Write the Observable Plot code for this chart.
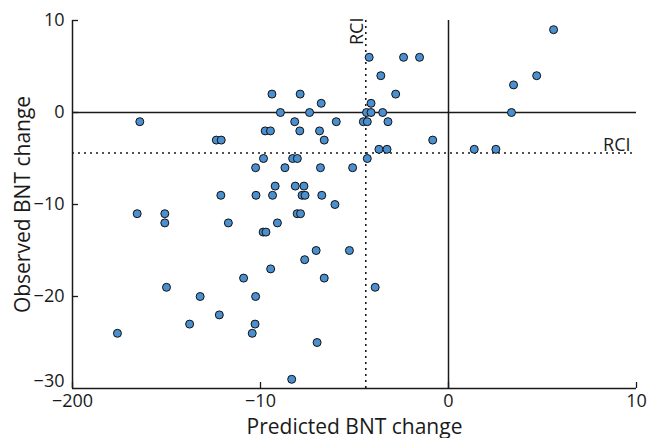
<!DOCTYPE html>
<html><head><meta charset="utf-8">
<script src="https://cdn.jsdelivr.net/npm/d3@7"></script>
<script src="https://cdn.jsdelivr.net/npm/@observablehq/plot@0.6"></script>
<style>body{margin:0;background:#fff} #c{width:648px;height:438px}</style>
</head><body><div id="c"></div>
<script>
const predicted = [
  5.59,
  -4.22, -2.39, -1.54,
  -3.60, 4.69,
  3.46,
  -9.39, -7.89, -2.81,
  -6.77, -4.12,
  -8.94, -7.39, -4.36, -4.12, -3.50, 3.35,
  -16.42, -8.18, -5.97, -4.53, -4.32, -3.22,
  -9.75, -9.47, -7.91, -6.86,
  -12.35, -12.09, -6.61, -0.84,
  -3.70, -3.27, 1.37, 2.52,
  -9.84, -8.29, -8.04, -4.32,
  -10.26, -8.70, -6.81, -5.10,
  -9.22, -8.15, -7.69,
  -12.11, -10.24, -9.36, -7.79, -7.63, -6.74,
  -6.04,
  -16.56, -15.09, -8.05, -7.87,
  -15.09, -11.71, -9.10,
  -9.86, -9.71,
  -7.04, -5.27,
  -7.65,
  -9.46,
  -10.90, -6.61,
  -15.00, -3.90,
  -13.21, -10.26,
  -12.19,
  -13.77, -10.29,
  -17.61, -10.44,
  -6.99,
  -8.34
];
const observed = [
  9,
  6, 6, 6,
  4, 4,
  3,
  2, 2, 2,
  1, 1,
  0, 0, 0, 0, 0, 0,
  -1, -1, -1, -1, -1, -1,
  -2, -2, -2, -2,
  -3, -3, -3, -3,
  -4, -4, -4, -4,
  -5, -5, -5, -5,
  -6, -6, -6, -6,
  -8, -8, -8,
  -9, -9, -9, -9, -9, -9,
  -10,
  -11, -11, -11, -11,
  -12, -12, -12,
  -13, -13,
  -15, -15,
  -16,
  -17,
  -18, -18,
  -19, -19,
  -20, -20,
  -22,
  -23, -23,
  -24, -24,
  -25,
  -29
];
const rci = -4.4;
const xTicks = [-20, -10, 0, 10];
const xTickLabels = ["−200", "−10", "0", "10"];
const yTicks = [10, 0, -10, -20];
const yTickLabels = ["10", "0", "−10", "−20"];
const yBottomTick = [-30];
const yBottomLabel = ["−30"];
const xTitle = "Predicted BNT change";
const yTitle = "Observed BNT change";
const rciLabel = "RCI";

const data = predicted.map((x, i) => ({x, y: observed[i]}));
const ink = "#1a1a1a";
const font = "Open Sans";

const chart = Plot.plot({
  width: 648,
  height: 438,
  marginLeft: 72,
  marginRight: 12,
  marginTop: 20,
  marginBottom: 50,
  style: {fontFamily: font, fontSize: "18px", color: ink, background: "white"},
  x: {domain: [-20, 10]},
  y: {domain: [-30, 10]},
  marks: [
    Plot.ruleY([rci], {stroke: ink, strokeWidth: 1.6, strokeDasharray: "2,4"}),
    Plot.ruleX([rci], {stroke: ink, strokeWidth: 1.6, strokeDasharray: "2,4"}),
    Plot.ruleY([0], {stroke: ink, strokeWidth: 1.5}),
    Plot.ruleX([0], {stroke: ink, strokeWidth: 1.5}),
    Plot.ruleX([-20], {stroke: ink, strokeWidth: 1.5}),
    Plot.ruleY([-30], {stroke: ink, strokeWidth: 1.5}),
    Plot.dot(data, {x: "x", y: "y", r: 4, fill: "#4a90d0", stroke: "#111", strokeWidth: 1}),
    Plot.axisX({ticks: xTicks, tickFormat: d => xTickLabels[xTicks.indexOf(d)], tickSize: -6, tickPadding: 12,
      label: null, fontSize: 18, stroke: ink, strokeWidth: 1.3, fill: ink}),
    Plot.axisY({ticks: yTicks, tickFormat: d => yTickLabels[yTicks.indexOf(d)], tickSize: -6, tickPadding: 14,
      label: null, fontSize: 18, stroke: ink, strokeWidth: 1.3, fill: ink}),
    Plot.axisY({ticks: yBottomTick, tickFormat: d => yBottomLabel[yBottomTick.indexOf(d)], tickSize: 0, tickPadding: 8, dy: -7, label: null, fontSize: 18, fill: ink}),
    Plot.text([xTitle], {frameAnchor: "bottom", text: d => d, textAnchor: "middle", lineAnchor: "bottom", dy: 45, fontSize: 21, fill: ink}),
    Plot.text([yTitle], {frameAnchor: "left", text: d => d, rotate: -90, textAnchor: "middle", lineAnchor: "middle", dx: -49, fontSize: 21, fill: ink}),
    Plot.text([rciLabel], {x: rci, y: 10, text: d => d, rotate: -90, textAnchor: "end", lineAnchor: "bottom", dx: -3, dy: -3, fontSize: 18, fill: ink}),
    Plot.text([rciLabel], {x: 10, y: rci, text: d => d, textAnchor: "end", lineAnchor: "bottom", dx: -6, dy: -2, fontSize: 18, fill: ink})
  ]
});
document.getElementById("c").appendChild(chart);
</script>
</body></html>
